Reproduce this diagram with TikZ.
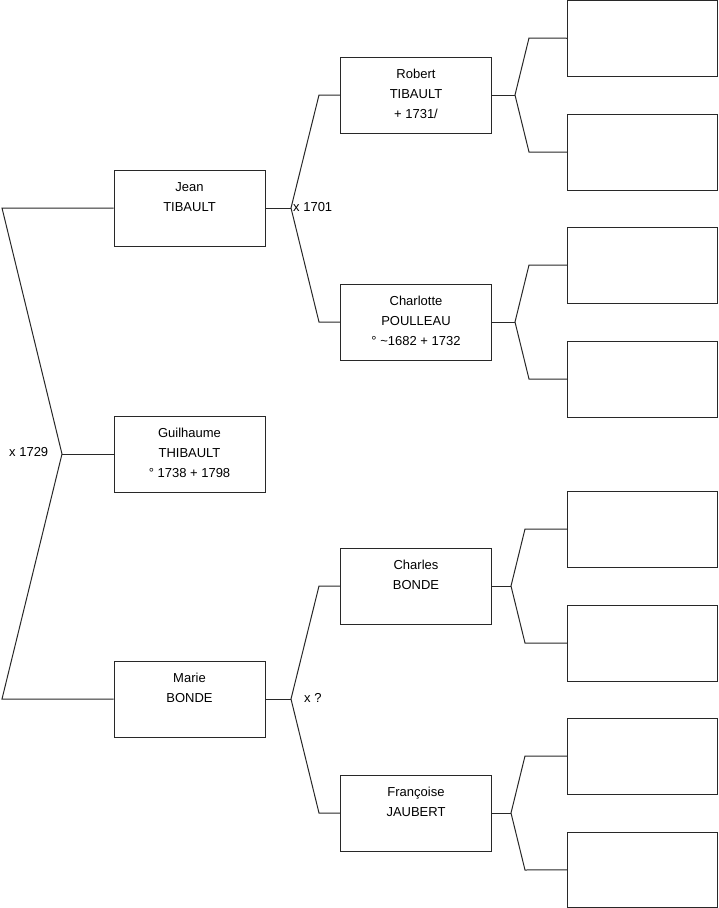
\documentclass[tikz,border=0pt]{standalone}
\usepackage{fontspec}
\setmainfont{Liberation Sans}
\definecolor{lc}{RGB}{40,40,40}
\begin{document}
\begin{tikzpicture}[x=1pt,y=-1pt,
  person/.style={draw=lc, line width=1pt, minimum width=151pt, minimum height=76pt, inner sep=0pt},
  ptext/.style={anchor=north, align=center, inner sep=0pt, font=\fontsize{13}{20}\selectfont},
  link/.style={draw=lc, line width=1pt},
  marr/.style={anchor=base west, inner sep=0pt, font=\fontsize{13}{15}\selectfont}]
\useasboundingbox (0,0) rectangle (719,908);
\newcommand\ptxt[2]{\node[ptext] at (#1.north) {\rule{0pt}{21.5pt}#2};}
% generation 1-3
\node[person] (jean) at (189.5,208) {};
\node[person] (guil) at (189.5,454) {};
\node[person] (marie) at (189.5,699) {};
\node[person] (robert) at (416,95) {};
\node[person] (charlotte) at (416,322) {};
\node[person] (charles) at (416,586) {};
\node[person] (francoise) at (416,813) {};
\ptxt{jean}{Jean\\TIBAULT}
\ptxt{guil}{Guilhaume\\THIBAULT\\° 1738 + 1798}
\ptxt{marie}{Marie\\BONDE}
\ptxt{robert}{Robert\\TIBAULT\\ + 1731/}
\ptxt{charlotte}{Charlotte\\POULLEAU\\° \textasciitilde1682 + 1732}
\ptxt{charles}{Charles\\BONDE}
\ptxt{francoise}{Françoise\\JAUBERT}
% generation 4 (empty)
\node[person, minimum width=150.5pt, minimum height=75.5pt] (ea) at (642.5,38.25) {};
\foreach \n/\y in {b/152,c/265,d/379,e/529,f/643,g/756}
  \node[person, minimum width=150.5pt] (e\n) at (642.5,\y) {};
\node[person, minimum width=150.5pt, minimum height=75.5pt] (eh) at (642.5,869.75) {};
% coordinates of forks
\coordinate (ltop) at (2,208);
\coordinate (lfork) at (62,454);
\coordinate (lbot) at (2,699);
\coordinate (jf) at (291,208);
\coordinate (jt) at (319,95);
\coordinate (jb) at (319,322);
\coordinate (mf) at (291,699);
\coordinate (mt) at (319,586);
\coordinate (mb) at (319,813);
\coordinate (rf) at (515,95);
\coordinate (rt) at (529,38);
\coordinate (rb) at (529,152);
\coordinate (cf) at (515,322);
\coordinate (ct) at (529,265);
\coordinate (cb) at (529,379);
\coordinate (bf) at (511,586);
\coordinate (bt) at (525,529);
\coordinate (bb) at (525,643);
\coordinate (ff) at (511,813);
\coordinate (ft) at (525,756);
\coordinate (fb) at (525,870);
% connectors
\draw[link] (jean.west) -- (ltop) -- (lfork) -- (lbot) -- (marie.west);
\draw[link] (lfork) -- (guil.west);
\draw[link] (jean.east) -- (jf);
\draw[link] (robert.west) -- (jt) -- (jf) -- (jb) -- (charlotte.west);
\draw[link] (marie.east) -- (mf);
\draw[link] (charles.west) -- (mt) -- (mf) -- (mb) -- (francoise.west);
\draw[link] (robert.east) -- (rf);
\draw[link] (ea.west) -- (rt) -- (rf) -- (rb) -- (eb.west);
\draw[link] (charlotte.east) -- (cf);
\draw[link] (ec.west) -- (ct) -- (cf) -- (cb) -- (ed.west);
\draw[link] (charles.east) -- (bf);
\draw[link] (ee.west) -- (bt) -- (bf) -- (bb) -- (ef.west);
\draw[link] (francoise.east) -- (ff);
\draw[link] (eg.west) -- (ft) -- (ff) -- (fb) -- (eh.west);
% marriage labels
\node[marr] (m1729) at (9,456) {x 1729};
\node[marr] (m1701) at (293,211) {x 1701};
\node[marr] (mq) at (304,702) {x ?};
\end{tikzpicture}
\end{document}
